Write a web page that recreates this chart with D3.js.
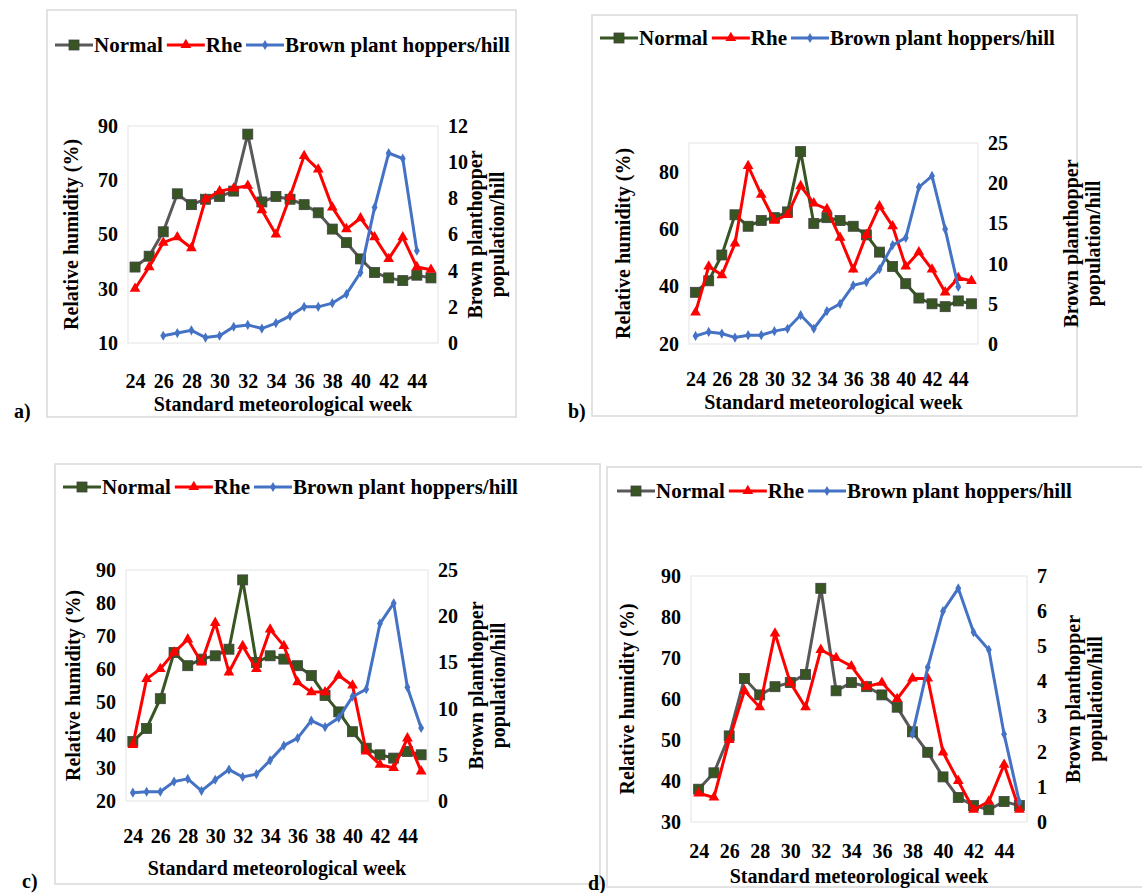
<!DOCTYPE html>
<html>
<head>
<meta charset="utf-8">
<script src="https://cdn.jsdelivr.net/npm/d3@7"></script>
<style>
  body { margin: 0; background: #fff; }
</style>
</head>
<body>
<script>
// weeks shared by all panels
const weeks = d3.range(24, 46);
const tickWeeks = [24, 26, 28, 30, 32, 34, 36, 38, 40, 42, 44];

const normal = [38, 42, 51, 65, 61, 63, 64, 66, 87, 62, 64, 63, 61, 58, 52, 47, 41, 36, 34, 33, 35, 34];

const rheA = [30, 38, 47, 49, 45, 63, 66, 67, 68, 59, 50, 64, 79, 74, 60, 52, 56, 49, 41, 49, 38, 37];
const rheB = [31, 47, 44, 55, 82, 72, 63, 65, 75, 69, 67, 57, 46, 58, 68, 61, 47, 52, 46, 38, 43, 42];
const rheC = [37, 57, 60, 65, 69, 62, 74, 59, 67, 60, 72, 67, 56, 53, 53, 58, 55, 35, 31, 30, 39, 29];
const rheD = [37, 36, 50, 62, 58, 76, 64, 58, 72, 70, 68, 63, 64, 60, 65, 65, 47, 40, 33, 35, 44, 33];

// null = no point that week
const bphA = [null, null, 0.4, 0.55, 0.7, 0.3, 0.4, 0.9, 1.0, 0.8, 1.1, 1.5, 2.0, 2.0, 2.2, 2.7, 3.9, 7.5, 10.5, 10.2, 5.1, null];
const bphB = [1.0, 1.5, 1.3, 0.8, 1.1, 1.1, 1.6, 1.9, 3.6, 1.9, 4.1, 5.0, 7.3, 7.7, 9.3, 12.3, 13.2, 19.5, 20.9, 14.3, 7.1, null];
const bphC = [0.9, 1.0, 1.0, 2.1, 2.4, 1.1, 2.3, 3.4, 2.6, 2.9, 4.4, 6.0, 6.8, 8.7, 8.0, 9.0, 11.3, 12.1, 19.2, 21.4, 12.3, 7.9];
const bphD = [null, null, null, null, null, null, null, null, null, null, null, null, null, null, 2.5, 4.4, 6.0, 6.65, 5.4, 4.9, 2.5, 0.57];

const COLORS = {normalGray: '#595959', normalGreen: '#375623', marker: '#375623', rhe: '#ff0000', bph: '#4472c4'};
const FONT = "'Liberation Serif', 'Times New Roman', 'DejaVu Serif', serif";

const svg = d3.select('body').append('svg').attr('width', 1142).attr('height', 893)
  .attr('font-family', FONT).attr('font-weight', 'bold');

function styleAxis(ax) {
  ax.select('.domain').remove();
  ax.attr('font-family', FONT).attr('font-size', 20);
  ax.selectAll('text').attr('fill', '#000');
}

function drawPanel(p) {
  const g = svg.append('g');
  g.append('rect').attr('x', p.box[0]).attr('y', p.box[1]).attr('width', p.box[2] - p.box[0]).attr('height', p.box[3] - p.box[1])
    .attr('fill', 'none').attr('stroke', '#d9d9d9').attr('stroke-width', 1.5);
  g.append('text').attr('x', p.tag[0]).attr('y', p.tag[1]).attr('font-size', 20).text(p.tagText);

  const x = d3.scalePoint().domain(weeks).range([p.plot[0], p.plot[2]]).padding(0.5);
  const yL = d3.scaleLinear().domain(p.yl).range([p.plot[3], p.plot[1]]);
  const yR = d3.scaleLinear().domain(p.yr).range([p.plot[3], p.plot[1]]);

  g.append('rect').attr('x', p.plot[0]).attr('y', p.plot[1]).attr('width', p.plot[2] - p.plot[0]).attr('height', p.plot[3] - p.plot[1])
    .attr('fill', 'none').attr('stroke', '#e3e3e3');

  const left = g.append('g').attr('transform', 'translate(' + (p.plot[0] - 8) + ',0)')
    .call(d3.axisLeft(yL).tickValues(p.ylTicks).tickSize(0).tickPadding(2).tickFormat(d3.format('d')));
  styleAxis(left);

  const right = g.append('g').attr('transform', 'translate(' + (p.plot[2] + 8) + ',0)')
    .call(d3.axisRight(yR).tickValues(p.yrTicks).tickSize(0).tickPadding(2).tickFormat(d3.format('d')));
  styleAxis(right);

  const bottom = g.append('g').attr('transform', 'translate(0,' + p.xTickY + ')')
    .call(d3.axisBottom(x).tickValues(tickWeeks).tickSize(0).tickPadding(0));
  styleAxis(bottom);
  bottom.selectAll('text').attr('dy', '0');

  g.append('text').attr('x', (p.plot[0] + p.plot[2]) / 2).attr('y', p.xTitleY).attr('text-anchor', 'middle')
    .attr('font-size', 20).text('Standard meteorological week');
  g.append('text').attr('transform', 'translate(' + p.ylTitleX + ',' + (p.plot[1] + p.plot[3]) / 2 + ') rotate(-90)')
    .attr('text-anchor', 'middle').attr('font-size', 20).text('Relative humidity (%)');
  const rt = g.append('text').attr('transform', 'translate(' + p.yrTitleX + ',' + (p.plot[1] + p.plot[3]) / 2 + ') rotate(-90)')
    .attr('text-anchor', 'middle').attr('font-size', 20);
  rt.append('tspan').attr('x', 0).attr('dy', 0).text('Brown planthopper');
  rt.append('tspan').attr('x', 0).attr('dy', 22).text('population/hill');

  const normalColor = p.grayNormal ? COLORS.normalGray : COLORS.normalGreen;
  const series = [
    {vals: normal, y: yL, color: normalColor, shape: 'square'},
    {vals: p.rhe, y: yL, color: COLORS.rhe, shape: 'triangle'},
    {vals: p.bph, y: yR, color: COLORS.bph, shape: 'diamond'}
  ];
  series.forEach((s) => {
    const pts = weeks.map((w, i) => ({w: w, v: s.vals[i]})).filter((d) => d.v != null);
    g.append('path').datum(pts).attr('fill', 'none').attr('stroke', s.color).attr('stroke-width', 3)
      .attr('d', d3.line().x((d) => x(d.w)).y((d) => s.y(d.v)));
    drawMarkers(g, pts.map((d) => [x(d.w), s.y(d.v)]), s.shape, s.color);
  });

  // legend
  const legend = [
    {label: 'Normal', color: normalColor, shape: 'square'},
    {label: 'Rhe', color: COLORS.rhe, shape: 'triangle'},
    {label: 'Brown plant hoppers/hill', color: COLORS.bph, shape: 'diamond'}
  ];
  let lx = p.legend[0];
  legend.forEach((l) => {
    g.append('line').attr('x1', lx).attr('x2', lx + 38).attr('y1', p.legend[1]).attr('y2', p.legend[1])
      .attr('stroke', l.color).attr('stroke-width', 3);
    drawMarkers(g, [[lx + 19, p.legend[1]]], l.shape, l.color);
    const t = g.append('text').attr('x', lx + 39).attr('y', p.legend[1] + 7).attr('font-size', 21).text(l.label);
    lx += 39 + t.node().getComputedTextLength() + 4;
  });
}

function drawMarkers(g, pts, shape, color) {
  pts.forEach(([px, py]) => {
    if (shape === 'square') {
      g.append('rect').attr('x', px - 5).attr('y', py - 5).attr('width', 10).attr('height', 10)
        .attr('fill', COLORS.marker).attr('stroke', '#404040').attr('stroke-width', 0.8);
    } else if (shape === 'triangle') {
      g.append('path').attr('d', d3.symbol(d3.symbolTriangle, 50)()).attr('transform', 'translate(' + px + ',' + py + ')')
        .attr('fill', color);
    } else {
      g.append('path').attr('d', d3.symbol(d3.symbolDiamond, 30)()).attr('transform', 'translate(' + px + ',' + py + ')')
        .attr('fill', color);
    }
  });
}

drawPanel({box: [47, 10, 516, 417], tag: [14, 418], tagText: 'a)', plot: [128, 126, 438, 343],
  yl: [10, 90], ylTicks: [10, 30, 50, 70, 90], yr: [0, 12], yrTicks: [0, 2, 4, 6, 8, 10, 12],
  xTickY: 388, xTitleY: 411, ylTitleX: 78, yrTitleX: 482, legend: [55, 45], rhe: rheA, bph: bphA, grayNormal: true});

drawPanel({box: [592, 15, 1077, 416], tag: [568, 418], tagText: 'b)', plot: [689, 143, 978, 344],
  yl: [20, 90], ylTicks: [20, 40, 60, 80], yr: [0, 25], yrTicks: [0, 5, 10, 15, 20, 25],
  xTickY: 386, xTitleY: 409, ylTitleX: 630, yrTitleX: 1078, legend: [600, 38], rhe: rheB, bph: bphB, grayNormal: false});

drawPanel({box: [55, 464, 600, 884], tag: [22, 888], tagText: 'c)', plot: [126, 570, 428, 801],
  yl: [20, 90], ylTicks: [20, 30, 40, 50, 60, 70, 80, 90], yr: [0, 25], yrTicks: [0, 5, 10, 15, 20, 25],
  xTickY: 843, xTitleY: 875, ylTitleX: 80, yrTitleX: 483, legend: [63, 487], rhe: rheC, bph: bphC, grayNormal: false});

drawPanel({box: [607, 467, 1160, 887], tag: [588, 890], tagText: 'd)', plot: [691, 576, 1027, 822],
  yl: [30, 90], ylTicks: [30, 40, 50, 60, 70, 80, 90], yr: [0, 7], yrTicks: [0, 1, 2, 3, 4, 5, 6, 7],
  xTickY: 858, xTitleY: 883, ylTitleX: 634, yrTitleX: 1080, legend: [617, 491], rhe: rheD, bph: bphD, grayNormal: true});
</script>
</body>
</html>
